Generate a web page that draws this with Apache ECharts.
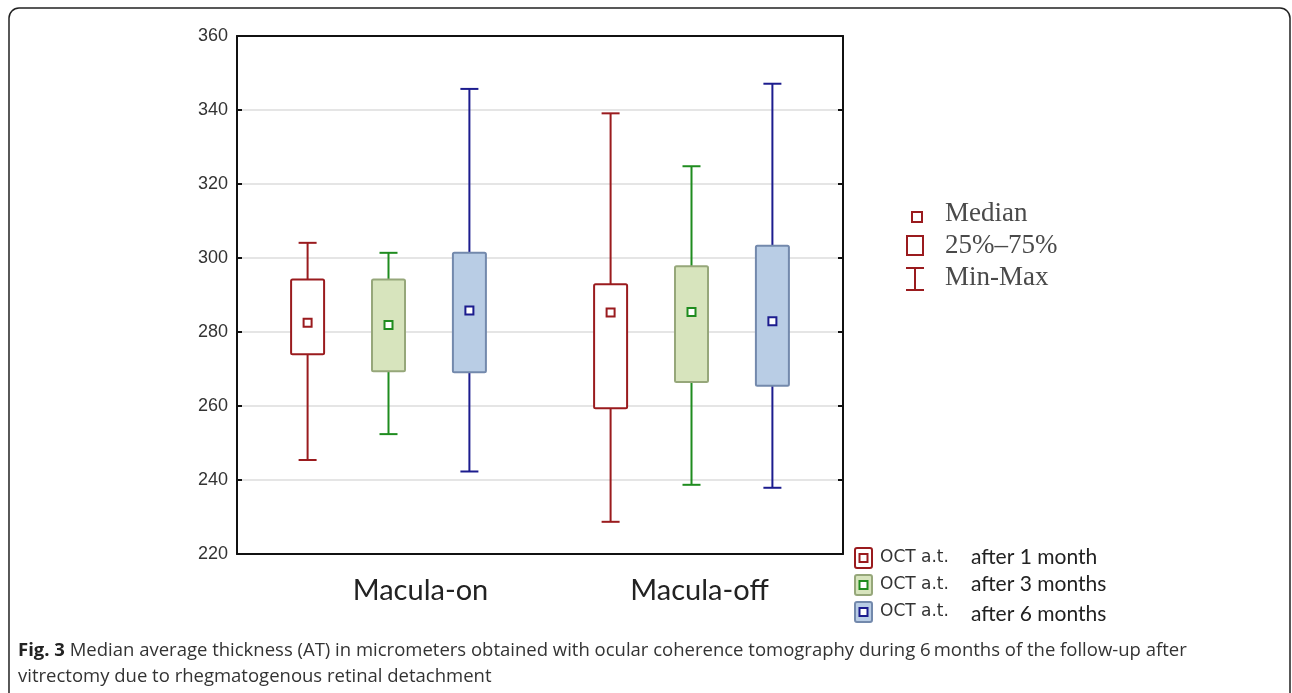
<!DOCTYPE html>
<html>
<head>
<meta charset="utf-8">
<script src="https://cdn.jsdelivr.net/npm/echarts@6/dist/echarts.min.js"></script>
<style>
  html, body { margin: 0; padding: 0; background: #fff; }
  #chart { width: 1292px; height: 693px; }
</style>
</head>
<body>
<div id="chart"></div>
<script>
// categories on the x axis
const categories = ['Macula-on', 'Macula-off'];
// [min, q1, median, q3, max] per category
const month1 = [[245.4, 274.0, 282.5, 294.2, 304.1], [228.7, 259.4, 285.3, 292.9, 339.1]];
const month3 = [[252.4, 269.4, 281.9, 294.2, 301.4], [238.7, 266.5, 285.4, 297.8, 324.8]];
const month6 = [[242.3, 269.1, 285.8, 301.4, 345.7], [237.9, 265.5, 282.9, 303.3, 347.1]];
const seriesNames = ['OCT a.t. after 1 month', 'OCT a.t. after 3 months', 'OCT a.t. after 6 months'];
const legendWhen = ['after 1 month', 'after 3 months', 'after 6 months'];
const yTicks = [220, 240, 260, 280, 300, 320, 340, 360];

const RED = '#9a1b1e';
const GREEN = '#1f8c1f';
const NAVY = '#1c1c8e';
const styles = [
  { line: RED, fill: '#ffffff', border: RED, offset: -0.267 },
  { line: GREEN, fill: '#d7e4bd', border: '#96a77a', offset: 0 },
  { line: NAVY, fill: '#b9cde5', border: '#7389ac', offset: 0.267 },
];

function boxRenderer(st) {
  return function (params, api) {
    const cat = api.value(0);
    const band = api.size([1, 0])[0];
    const cx = api.coord([cat, api.value(3)])[0] + st.offset * band;
    const y = (k) => api.coord([cat, api.value(k)])[1];
    const bw = 33, cw = 18, m = 4;
    return {
      type: 'group',
      children: [
        { type: 'line', shape: { x1: cx, y1: y(1), x2: cx, y2: y(5) }, style: { stroke: st.line, lineWidth: 2 } },
        { type: 'line', shape: { x1: cx - cw / 2, y1: y(1), x2: cx + cw / 2, y2: y(1) }, style: { stroke: st.line, lineWidth: 2 } },
        { type: 'line', shape: { x1: cx - cw / 2, y1: y(5), x2: cx + cw / 2, y2: y(5) }, style: { stroke: st.line, lineWidth: 2 } },
        { type: 'rect', shape: { x: cx - bw / 2, y: y(4), width: bw, height: y(2) - y(4), r: 1.5 }, style: { fill: st.fill, stroke: st.border, lineWidth: 2 } },
        { type: 'rect', shape: { x: cx - m, y: y(3) - m, width: 2 * m, height: 2 * m }, style: { fill: '#fff', stroke: st.line, lineWidth: 2 } },
      ],
    };
  };
}

const chart = echarts.init(document.getElementById('chart'));

const legendIcons = [];
styles.forEach((st, i) => {
  const top = 548 + i * 27;
  legendIcons.push(
    { type: 'rect', shape: { x: 855, y: top, width: 17, height: 20, r: 2 }, style: { fill: st.fill, stroke: st.border, lineWidth: 2 } },
    { type: 'rect', shape: { x: 859.5, y: top + 6, width: 8, height: 8 }, style: { fill: '#fff', stroke: st.line, lineWidth: 2 } },
    { type: 'text', x: 880, y: top + 10, style: { text: 'OCT a.t.', fontFamily: 'DejaVu Sans', fontSize: 17, fill: '#333', verticalAlign: 'middle' } },
    { type: 'text', x: 971, y: top + 9 + (i === 2 ? 3 : 0), style: { text: legendWhen[i], fontFamily: 'Lato', fontSize: 21, fill: '#222', verticalAlign: 'middle' } }
  );
});

chart.setOption({
  animation: false,
  grid: { left: 237, right: 449, top: 36, bottom: 139 },
  xAxis: [
    {
      type: 'category',
      data: categories,
      axisLine: { lineStyle: { color: '#111', width: 2 } },
      axisTick: { alignWithLabel: true, inside: true, length: 5, lineStyle: { color: '#111', width: 2 } },
      axisLabel: {
        margin: 22,
        formatter: (v) => (v === 'Macula-on' ? '{on|' + v + '}' : '{off|' + v + '}'),
        rich: {
          on: { fontFamily: 'Lato', fontSize: 29, color: '#222', padding: [0, 0, 0, 64] },
          off: { fontFamily: 'Lato', fontSize: 29, color: '#222', padding: [0, 0, 0, 16] },
        },
      },
      splitLine: { show: false },
    },
    {
      type: 'category',
      data: categories,
      position: 'top',
      axisLine: { lineStyle: { color: '#111', width: 2 } },
      axisTick: { show: false },
      axisLabel: { show: false },
    },
  ],
  yAxis: [
    {
      type: 'value',
      min: 220, max: 360, interval: 20,
      axisLine: { show: true, lineStyle: { color: '#111', width: 2 } },
      axisTick: { show: true, inside: true, length: 5, lineStyle: { color: '#111', width: 2 } },
      axisLabel: { fontFamily: 'Liberation Sans', fontSize: 18, color: '#333', margin: 9, formatter: (v) => (yTicks.includes(v) ? String(v) : '') },
      splitLine: { show: true, lineStyle: { color: '#dcdcdc', width: 1.5 } },
    },
    {
      type: 'value',
      min: 220, max: 360, interval: 20,
      position: 'right',
      axisLine: { show: true, lineStyle: { color: '#111', width: 2 } },
      axisTick: { show: true, inside: true, length: 5, lineStyle: { color: '#111', width: 2 } },
      axisLabel: { show: false },
      splitLine: { show: false },
    },
  ],
  series: [month1, month3, month6].map((vals, i) => ({
    name: seriesNames[i],
    type: 'custom',
    renderItem: boxRenderer(styles[i]),
    encode: { x: 0, y: [1, 2, 3, 4, 5] },
    data: vals.map((v, c) => [c].concat(v)),
    z: 3,
  })),
  graphic: [
    // outer figure frame
    { type: 'rect', shape: { x: 9, y: 8, width: 1281, height: 740, r: 10 }, style: { fill: 'none', stroke: '#222', lineWidth: 1.5 }, z: 0 },
    // summary legend
    { type: 'rect', shape: { x: 912, y: 212, width: 10, height: 10 }, style: { fill: '#fff', stroke: RED, lineWidth: 2 } },
    { type: 'rect', shape: { x: 907, y: 236, width: 16, height: 19 }, style: { fill: '#fff', stroke: RED, lineWidth: 2 } },
    { type: 'line', shape: { x1: 915, y1: 268, x2: 915, y2: 290 }, style: { stroke: RED, lineWidth: 2 } },
    { type: 'line', shape: { x1: 906, y1: 268, x2: 924, y2: 268 }, style: { stroke: RED, lineWidth: 2 } },
    { type: 'line', shape: { x1: 906, y1: 290, x2: 924, y2: 290 }, style: { stroke: RED, lineWidth: 2 } },
    { type: 'text', x: 945, y: 214, style: { text: 'Median', fontFamily: 'Liberation Serif', fontSize: 27, fill: '#4a4a4a', verticalAlign: 'middle' } },
    { type: 'text', x: 945, y: 246, style: { text: '25%\u201375%', fontFamily: 'Liberation Serif', fontSize: 27, fill: '#4a4a4a', verticalAlign: 'middle' } },
    { type: 'text', x: 945, y: 278, style: { text: 'Min-Max', fontFamily: 'Liberation Serif', fontSize: 27, fill: '#4a4a4a', verticalAlign: 'middle' } },
    ...legendIcons,
    // caption
    {
      type: 'text', x: 18, y: 651,
      style: {
        text: '{b|Fig. 3} Median average thickness (AT) in micrometers obtained with ocular coherence tomography during 6\u2009months of the follow-up after',
        fontFamily: 'Open Sans', fontSize: 18.5, fill: '#333', verticalAlign: 'middle',
        rich: { b: { fontFamily: 'Open Sans', fontSize: 18.5, fontWeight: 'bold', fill: '#222' } },
      },
    },
    { type: 'text', x: 18, y: 677, style: { text: 'vitrectomy due to rhegmatogenous retinal detachment', fontFamily: 'Open Sans', fontSize: 18.5, fill: '#333', verticalAlign: 'middle' } },
  ],
});
</script>
</body>
</html>
